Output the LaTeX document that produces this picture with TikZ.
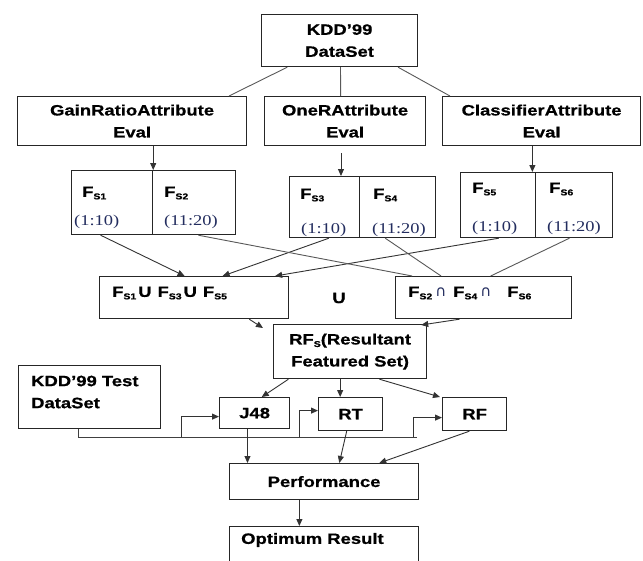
\documentclass[tikz,border=0pt]{standalone}
\usepackage{fontspec}
\setmainfont{Liberation Sans}[FakeStretch=1.23, BoldFeatures={FakeBold=0.7}]
\newfontfamily\numfont{Liberation Serif}[FakeStretch=1.23]
\newfontfamily\capfont{DejaVu Sans}
\usetikzlibrary{arrows.meta,calc}
\definecolor{navy}{RGB}{35,45,95}
\newcommand\mysub[1]{\raisebox{-2.5pt}{\fontsize{8.5}{8.5}\selectfont S#1}}
\newcommand\FF[1]{F\mysub{#1}}
\newcommand\capsym{{\capfont\mdseries\fontsize{15}{15}\selectfont\color{navy}∩}}
\begin{document}
\begin{tikzpicture}[x=1pt,y=-1pt,
  bx/.style={draw=black!85, line width=1.2pt, inner sep=0pt, align=center, anchor=north west, font=\bfseries\fontsize{15}{22}\selectfont},
  tx/.style={inner sep=0pt, font=\bfseries\fontsize{15}{22}\selectfont},
  nm/.style={inner sep=0pt, font=\numfont\fontsize{15}{18}\selectfont, text=navy, anchor=west},
  ln/.style={draw=black!65, line width=0.9pt},
  arr/.style={draw=black!80, line width=0.9pt, -{Triangle[length=7pt,width=6pt]}}]
\fill[white] (0,0) rectangle (643,560);
\useasboundingbox (0,0) rectangle (643,560);

% top level
\node[bx, minimum width=156pt, minimum height=52pt] (kdd) at (261,14) {KDD’99\\DataSet};
\node[bx, minimum width=229pt, minimum height=49pt] (gr) at (17,96) {GainRatioAttribute\\Eval};
\node[bx, minimum width=161pt, minimum height=49pt] (oner) at (264,96) {OneRAttribute\\Eval};
\node[bx, minimum width=198pt, minimum height=49pt] (cls) at (442,96) {ClassifierAttribute\\Eval};

% feature subsets
\node[bx, minimum width=81pt, minimum height=64pt] (fs1) at (71,170) {};
\node[bx, minimum width=83pt, minimum height=64pt] (fs2) at (152,170) {};
\node[bx, minimum width=70pt, minimum height=61pt] (fs3) at (289,176) {};
\node[bx, minimum width=76pt, minimum height=61pt] (fs4) at (359,176) {};
\node[bx, minimum width=75pt, minimum height=65pt] (fs5) at (460,172) {};
\node[bx, minimum width=77pt, minimum height=65pt] (fs6) at (535,172) {};

\node[tx, anchor=west] (f1) at ($(fs1.north west)+(11,23)$) {\FF{1}};
\node[nm] (n1) at ($(fs1.north west)+(3,52)$) {(1:10)};
\node[tx, anchor=west] (f2) at ($(fs2.north west)+(12,23)$) {\FF{2}};
\node[nm] (n2) at ($(fs2.north west)+(12,52)$) {(11:20)};
\node[tx, anchor=west] (f3) at ($(fs3.north west)+(11,19)$) {\FF{3}};
\node[nm] (n3) at ($(fs3.north west)+(12,54)$) {(1:10)};
\node[tx, anchor=west] (f4) at ($(fs4.north west)+(14,19)$) {\FF{4}};
\node[nm] (n4) at ($(fs4.north west)+(13,54)$) {(11:20)};
\node[tx, anchor=west] (f5) at ($(fs5.north west)+(12,17)$) {\FF{5}};
\node[nm] (n5) at ($(fs5.north west)+(12,56)$) {(1:10)};
\node[tx, anchor=west] (f6) at ($(fs6.north west)+(14,17)$) {\FF{6}};
\node[nm] (n6) at ($(fs6.north west)+(12,56)$) {(11:20)};

% union / intersection
\node[bx, minimum width=189pt, minimum height=42pt] (uni) at (99,276) {};
\node[tx, anchor=west] (unit) at ($(uni.north west)+(13,17)$) {\FF{1}\hspace{2pt}U\hspace{6pt}\FF{3}\hspace{2pt}U\hspace{6pt}\FF{5}};
\node[tx] (cup) at (339,298) {U};
\node[bx, minimum width=176pt, minimum height=42pt] (inter) at (395,276) {};
\node[tx, anchor=west] (intt) at ($(inter.north west)+(13,17)$) {\FF{2}\hspace{3pt}\capsym\hspace{7pt}\FF{4}\hspace{3pt}\capsym\hspace{16pt}\FF{6}};

% resultant
\node[bx, minimum width=153pt, minimum height=54pt] (rfs) at (273,324) {RF\mysub{}(Resultant\\Featured Set)};

% test set and classifiers
\node[bx, minimum width=142pt, minimum height=63pt] (test) at (18,365) {};
\node[tx, anchor=west, align=left] (testt) at ($(test.north west)+(13,27)$) {KDD’99 Test\\DataSet};
\node[bx, minimum width=70pt, minimum height=31pt] (j48) at (219,397) {J48};
\node[bx, minimum width=64pt, minimum height=33pt] (rt) at (318,397) {RT};
\node[bx, minimum width=64pt, minimum height=33pt] (rf) at (442,397) {RF};
\node[bx, minimum width=189pt, minimum height=36pt] (perf) at (229,463) {Performance};
\node[bx, minimum width=189pt, minimum height=50pt] (opt) at (229,526) {};
\node[tx, anchor=west] (optt) at ($(opt.north west)+(12,14)$) {Optimum Result};

% connectors: top
\draw[ln] ($(kdd.south west)!0.167!(kdd.south east)$) -- ($(gr.north west)!0.921!(gr.north east)$);
\draw[ln] ($(kdd.south west)!0.506!(kdd.south east)$) -- ($(oner.north west)!0.472!(oner.north east)$);
\draw[ln] ($(kdd.south west)!0.872!(kdd.south east)$) -- ($(cls.north west)!0.04!(cls.north east)$);
\draw[arr] (gr.south -| fs1.north east) -- (fs1.north east);
\coordinate (a5) at ($(fs3.north west)!0.73!(fs3.north east)$);
\draw[arr] ($(a5 |- oner.south)+(0,7)$) -- (a5);
\coordinate (a6) at ($(fs5.north west)!0.95!(fs5.north east)$);
\draw[arr] (a6 |- cls.south) -- (a6);

% subsets to union / intersection
\draw[arr] ($(fs1.south west)!0.36!(fs1.south east)$) -- ($(uni.north west)!0.45!(uni.north east)$);
\draw[arr] ($(fs3.south west)!0.56!(fs3.south east)$) -- ($(uni.north west)!0.65!(uni.north east)$);
\draw[arr] ($(fs5.south west)!0.51!(fs5.south east)$) -- ($(uni.north west)!0.926!(uni.north east)$);
\draw[ln] ($(fs2.south west)!0.55!(fs2.south east)$) -- ($(inter.north west)!0.097!(inter.north east)$);
\draw[ln] ($(fs4.south west)!0.34!(fs4.south east)$) -- ($(inter.north west)!0.26!(inter.north east)$);
\draw[ln] ($(fs6.south west)!0.44!(fs6.south east)$) -- ($(inter.north west)!0.54!(inter.north east)$);

% to resultant
\draw[arr] ($(uni.south west)!0.79!(uni.south east)$) -- ($(rfs.north west)+(-10,4)$);
\draw[arr] ($(inter.south west)!0.364!(inter.south east)$) -- ($(rfs.north east)+(-6,1)$);

% resultant to classifiers
\draw[arr] ($(rfs.south west)!0.1!(rfs.south east)$) -- ($(j48.north west)!0.6!(j48.north east)$);
\coordinate (b2) at ($(rt.north west)!0.34!(rt.north east)$);
\draw[arr] (b2 |- rfs.south) -- (b2);
\draw[arr] ($(rfs.south west)!0.69!(rfs.south east)$) -- ($(rf.north west)+(-2,0)$);

% test set bus
\coordinate (t0) at ($(test.south west)!0.42!(test.south east)$);
\coordinate (busend) at (417,437);
\coordinate (k1) at (181,437);
\coordinate (k2) at (299,437);
\coordinate (k3) at (413,437);
\draw[ln, draw=black!75] (t0) -- (t0 |- busend) -- (busend);
\draw[arr] (k1) |- ($(j48.west)+(0,3.5)$);
\draw[arr] (k2) |- ($(rt.west)+(0,-3.5)$);
\draw[arr] (k3) |- ($(rf.west)+(0,3.5)$);

% to performance and result
\coordinate (c1) at ($(j48.south west)!0.4!(j48.south east)$);
\draw[arr] (c1) -- (c1 |- perf.north);
\draw[arr] ($(rt.south west)!0.44!(rt.south east)$) -- ($(perf.north west)!0.58!(perf.north east)$);
\draw[arr] ($(rf.south west)!0.42!(rf.south east)$) -- ($(perf.north west)!0.79!(perf.north east)$);
\coordinate (c4) at ($(perf.south west)!0.37!(perf.south east)$);
\draw[arr] (c4) -- (c4 |- opt.north);
\end{tikzpicture}
\end{document}
